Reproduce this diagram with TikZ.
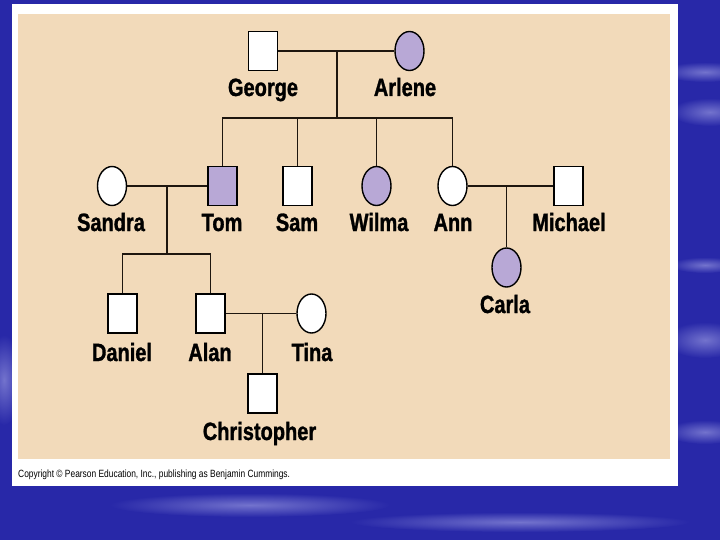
\documentclass[tikz,border=0pt]{standalone}
\usepackage{fontspec}
\usetikzlibrary{shapes.geometric}
\newfontfamily\pedfont[FakeStretch=0.8, BoldFeatures={FakeBold=1.2}]{Liberation Sans}

\definecolor{slideblue}{RGB}{40,40,168}
\definecolor{streakblue}{RGB}{115,115,205}
\definecolor{panelbeige}{RGB}{242,218,186}
\definecolor{traitpurple}{RGB}{184,168,214}
\definecolor{linebrown}{RGB}{30,22,15}

\tikzset{
  male/.style={draw=black, line width=1.4pt, fill=white, rectangle,
    minimum width=29pt, minimum height=39pt, inner sep=0pt},
  female/.style={draw=black, line width=1.4pt, fill=white, ellipse,
    minimum width=29pt, minimum height=39pt, inner sep=0pt},
  affected/.style={fill=traitpurple},
  pedname/.style={anchor=base, inner sep=0pt, font=\pedfont\bfseries\fontsize{25}{25}\selectfont},
  tie/.style={draw=linebrown, line width=1.5pt}
}

\begin{document}
\begin{tikzpicture}[x=1pt, y=-1pt]
  %% ── Slide background and panels ─────────────────────────
  \useasboundingbox (0,0) rectangle (720,540);
  \fill[slideblue] (0,0) rectangle (720,540);
  \begin{scope}
    \clip (0,0) rectangle (720,540);
    \foreach \cx/\cy/\rx/\ry in {
        705/72/45/10, 710/112/40/14, 705/265/35/8, 705/340/40/18,
        705/432/40/12, 250/505/140/12, 520/522/170/10, 4/380/18/45}{
      \shade[inner color=streakblue, outer color=slideblue] (\cx,\cy) ellipse ({\rx} and {\ry});
    }
  \end{scope}
  \fill[white] (12,4) rectangle (678,486);
  \fill[panelbeige] (18,14) rectangle (670,459);

  %% ── Generation I ────────────────────────────────────────
  \node[male]             (george) at (263,51) {};
  \node[female, affected] (arlene) at (409.5,51) {};
  \node[pedname] (george-lbl) at (263,96) {George};
  \node[pedname] (arlene-lbl) at (405,96) {Arlene};

  %% ── Generation II ───────────────────────────────────────
  \node[female]           (sandra)  at (112,186)   {};
  \node[male, affected]   (tom)     at (222.5,186) {};
  \node[male]             (sam)     at (297.5,186) {};
  \node[female, affected] (wilma)   at (376.5,186) {};
  \node[female]           (ann)     at (452.5,186) {};
  \node[male]             (michael) at (568.5,186) {};
  \foreach \who/\xx/\txt in {sandra/111/Sandra, tom/222/Tom, sam/297/Sam,
      wilma/379/Wilma, ann/453/Ann, michael/569/Michael}{
    \node[pedname] (\who-lbl) at (\xx,231) {\txt};
  }
  \node[female, affected] (carla) at (506.5,267.5) {};
  \node[pedname] (carla-lbl) at (505,313) {Carla};

  %% ── Generation III ──────────────────────────────────────
  \node[male]   (daniel) at (122.5,313.5) {};
  \node[male]   (alan)   at (210.5,313.5) {};
  \node[female] (tina)   at (311.5,313.5) {};
  \foreach \who/\xx/\txt in {daniel/122/Daniel, alan/210/Alan, tina/312/Tina}{
    \node[pedname] (\who-lbl) at (\xx,361) {\txt};
  }
  \node[male] (christopher) at (262.5,393.5) {};
  \node[pedname] (christopher-lbl) at (259.5,440) {Christopher};

  %% ── Matings, descent and sibship lines ──────────────────
  \coordinate (ga-mate) at (337,51);
  \coordinate (ga-sib)  at (337,118);
  \draw[tie] (george.east) -- (arlene.west);
  \draw[tie] (ga-mate) -- (ga-sib);
  \foreach \kid in {tom, sam, wilma, ann}{
    \draw[tie] (ga-sib) -| (\kid.north);
  }

  \coordinate (st-mate) at (167,186);
  \coordinate (st-sib)  at (167,254);
  \draw[tie] (sandra.east) -- (tom.west);
  \draw[tie] (st-mate) -- (st-sib);
  \foreach \kid in {daniel, alan}{
    \draw[tie] (st-sib) -| (\kid.north);
  }

  \coordinate (am-mate) at (506.5,186);
  \draw[tie] (ann.east) -- (michael.west);
  \draw[tie] (am-mate) -- (carla.north);

  \coordinate (at-mate) at (262.5,313.5);
  \draw[tie] (alan.east) -- (tina.west);
  \draw[tie] (at-mate) -- (christopher.north);

  %% ── Credit line ─────────────────────────────────────────
  \node[anchor=base west, inner sep=0pt, font=\pedfont\fontsize{10.5}{10.5}\selectfont]
    (credit) at (18,477) {Copyright \textcopyright\ Pearson Education, Inc., publishing as Benjamin Cummings.};
\end{tikzpicture}
\end{document}
